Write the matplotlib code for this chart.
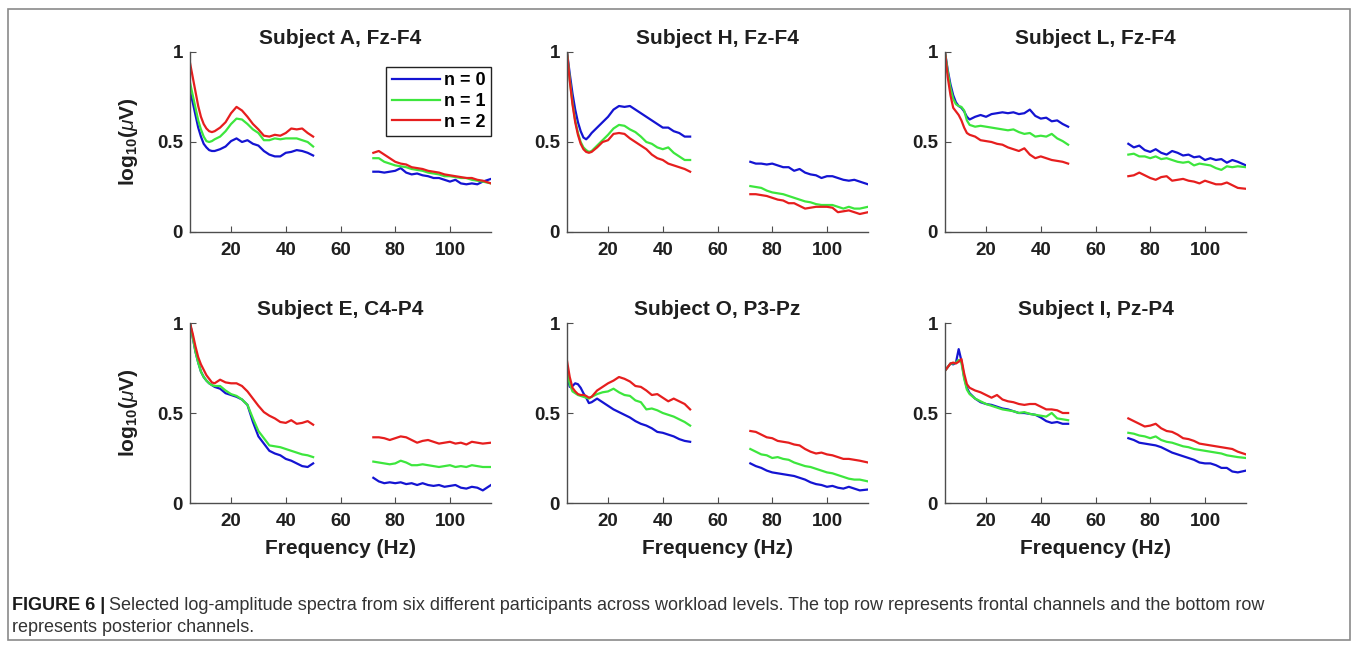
import matplotlib
matplotlib.use("Agg")
import matplotlib.pyplot as plt
from matplotlib.patches import Rectangle

plt.rcParams["font.family"] = ["Liberation Sans", "DejaVu Sans"]
plt.rcParams["mathtext.fontset"] = "custom"
plt.rcParams["mathtext.rm"] = "Liberation Sans"
plt.rcParams["mathtext.bf"] = "Liberation Sans:bold"
plt.rcParams["mathtext.it"] = "Liberation Sans:italic"

# Frequency grids of the two plotted bands (Hz)
freq_low = [5, 6, 7, 8, 9, 10, 11, 12, 13, 14, 16, 18, 20, 22, 24, 26, 28,
            30, 32, 34, 36, 38, 40, 42, 44, 46, 48, 50]
freq_high = [72, 74, 76, 78, 80, 82, 84, 86, 88, 90, 92, 94, 96, 98, 100,
             102, 104, 106, 108, 110, 112, 115]

levels = ["n = 0", "n = 1", "n = 2"]
level_colors = ["#1414d2", "#3de63d", "#e61e1e"]

# Subject A, Fz-F4
A_low_n0 = [0.78, 0.72, 0.65, 0.58, 0.53, 0.49, 0.47, 0.455, 0.45, 0.45, 0.46, 0.475, 0.505, 0.52,
            0.50, 0.51, 0.49, 0.48, 0.45, 0.43, 0.42, 0.42, 0.44, 0.445, 0.455, 0.45, 0.44, 0.425]
A_low_n1 = [0.83, 0.76, 0.69, 0.62, 0.57, 0.53, 0.505, 0.50, 0.505, 0.515, 0.53, 0.56, 0.60, 0.63,
            0.625, 0.60, 0.57, 0.55, 0.51, 0.51, 0.52, 0.515, 0.52, 0.52, 0.52, 0.51, 0.50, 0.475]
A_low_n2 = [0.94, 0.86, 0.78, 0.70, 0.64, 0.60, 0.575, 0.56, 0.555, 0.56, 0.58, 0.61, 0.66, 0.695,
            0.675, 0.64, 0.60, 0.57, 0.535, 0.53, 0.54, 0.535, 0.55, 0.575, 0.57, 0.575, 0.55, 0.53]
A_high_n0 = [0.335, 0.335, 0.33, 0.335, 0.34, 0.355, 0.33, 0.32, 0.325, 0.315, 0.31, 0.30, 0.30,
             0.29, 0.28, 0.29, 0.27, 0.265, 0.27, 0.265, 0.28, 0.295]
A_high_n1 = [0.41, 0.41, 0.39, 0.38, 0.37, 0.365, 0.36, 0.35, 0.345, 0.34, 0.33, 0.325, 0.32,
             0.31, 0.31, 0.305, 0.30, 0.30, 0.29, 0.285, 0.28, 0.27]
A_high_n2 = [0.44, 0.45, 0.43, 0.41, 0.39, 0.38, 0.375, 0.36, 0.355, 0.35, 0.34, 0.335, 0.33,
             0.32, 0.315, 0.31, 0.305, 0.30, 0.30, 0.29, 0.285, 0.27]

# Subject H, Fz-F4
H_low_n0 = [1.0, 0.88, 0.77, 0.68, 0.61, 0.56, 0.525, 0.515, 0.53, 0.55, 0.58, 0.61, 0.64, 0.68,
            0.70, 0.695, 0.70, 0.68, 0.66, 0.64, 0.62, 0.60, 0.58, 0.58, 0.56, 0.55, 0.53, 0.53]
H_low_n1 = [1.0, 0.85, 0.72, 0.62, 0.55, 0.50, 0.47, 0.455, 0.445, 0.45, 0.48, 0.51, 0.54, 0.575,
            0.595, 0.59, 0.57, 0.555, 0.53, 0.50, 0.49, 0.47, 0.46, 0.47, 0.44, 0.42, 0.40, 0.40]
H_low_n2 = [1.0, 0.84, 0.71, 0.61, 0.54, 0.49, 0.46, 0.445, 0.44, 0.445, 0.47, 0.50, 0.51, 0.545,
            0.55, 0.545, 0.52, 0.50, 0.48, 0.46, 0.43, 0.41, 0.40, 0.38, 0.37, 0.36, 0.35, 0.335]
H_high_n0 = [0.39, 0.38, 0.38, 0.375, 0.38, 0.37, 0.36, 0.36, 0.34, 0.35, 0.33, 0.32, 0.315,
             0.30, 0.31, 0.31, 0.30, 0.29, 0.285, 0.29, 0.28, 0.265]
H_high_n1 = [0.255, 0.25, 0.245, 0.23, 0.22, 0.215, 0.21, 0.20, 0.19, 0.18, 0.17, 0.165, 0.155,
             0.15, 0.15, 0.15, 0.14, 0.13, 0.14, 0.13, 0.13, 0.14]
H_high_n2 = [0.21, 0.21, 0.205, 0.20, 0.19, 0.18, 0.175, 0.16, 0.16, 0.145, 0.13, 0.135, 0.14,
             0.14, 0.14, 0.135, 0.11, 0.115, 0.12, 0.11, 0.10, 0.11]

# Subject L, Fz-F4
L_low_n0 = [1.0, 0.90, 0.82, 0.76, 0.72, 0.70, 0.69, 0.67, 0.64, 0.625, 0.64, 0.65, 0.64, 0.655,
            0.66, 0.665, 0.66, 0.665, 0.655, 0.66, 0.68, 0.645, 0.63, 0.635, 0.615, 0.62, 0.60, 0.585]
L_low_n1 = [1.0, 0.89, 0.80, 0.74, 0.71, 0.70, 0.695, 0.675, 0.62, 0.595, 0.585, 0.59, 0.585, 0.58,
            0.575, 0.57, 0.565, 0.57, 0.555, 0.545, 0.55, 0.53, 0.535, 0.53, 0.545, 0.52, 0.505, 0.485]
L_low_n2 = [1.0, 0.86, 0.76, 0.69, 0.67, 0.65, 0.62, 0.58, 0.55, 0.54, 0.53, 0.51, 0.505, 0.50,
            0.49, 0.485, 0.47, 0.46, 0.45, 0.465, 0.43, 0.41, 0.42, 0.41, 0.40, 0.395, 0.39, 0.38]
L_high_n0 = [0.49, 0.47, 0.48, 0.455, 0.445, 0.46, 0.44, 0.43, 0.45, 0.44, 0.425, 0.43, 0.415,
             0.42, 0.40, 0.41, 0.40, 0.405, 0.385, 0.40, 0.39, 0.37]
L_high_n1 = [0.43, 0.435, 0.42, 0.42, 0.41, 0.42, 0.405, 0.41, 0.40, 0.39, 0.385, 0.39, 0.37,
             0.38, 0.375, 0.37, 0.355, 0.345, 0.365, 0.36, 0.365, 0.36]
L_high_n2 = [0.31, 0.315, 0.33, 0.315, 0.30, 0.29, 0.305, 0.31, 0.285, 0.29, 0.295, 0.285, 0.28,
             0.27, 0.285, 0.275, 0.265, 0.265, 0.275, 0.26, 0.245, 0.24]

# Subject E, C4-P4
E_low_n0 = [1.0, 0.92, 0.84, 0.78, 0.73, 0.70, 0.68, 0.665, 0.655, 0.645, 0.635, 0.61, 0.60, 0.59,
            0.575, 0.545, 0.45, 0.37, 0.33, 0.29, 0.275, 0.265, 0.245, 0.235, 0.22, 0.205, 0.20, 0.22]
E_low_n1 = [1.0, 0.92, 0.84, 0.78, 0.73, 0.70, 0.68, 0.665, 0.655, 0.65, 0.65, 0.625, 0.605, 0.595,
            0.575, 0.545, 0.47, 0.40, 0.36, 0.32, 0.315, 0.31, 0.30, 0.29, 0.28, 0.27, 0.265, 0.255]
E_low_n2 = [1.0, 0.94, 0.87, 0.81, 0.77, 0.74, 0.71, 0.69, 0.67, 0.665, 0.685, 0.67, 0.665, 0.665,
            0.65, 0.62, 0.58, 0.54, 0.505, 0.485, 0.47, 0.45, 0.445, 0.46, 0.44, 0.445, 0.455, 0.435]
E_high_n0 = [0.14, 0.12, 0.11, 0.115, 0.11, 0.115, 0.105, 0.11, 0.10, 0.11, 0.10, 0.095, 0.10,
             0.09, 0.095, 0.10, 0.085, 0.08, 0.09, 0.085, 0.07, 0.10]
E_high_n1 = [0.23, 0.225, 0.22, 0.215, 0.22, 0.235, 0.225, 0.21, 0.21, 0.215, 0.21, 0.205, 0.20,
             0.205, 0.21, 0.20, 0.205, 0.20, 0.21, 0.205, 0.20, 0.20]
E_high_n2 = [0.365, 0.365, 0.36, 0.35, 0.36, 0.37, 0.365, 0.35, 0.335, 0.345, 0.35, 0.34, 0.33,
             0.335, 0.34, 0.33, 0.335, 0.325, 0.34, 0.335, 0.33, 0.335]

# Subject O, P3-Pz
O_low_n0 = [0.72, 0.645, 0.65, 0.665, 0.66, 0.64, 0.61, 0.585, 0.555, 0.56, 0.58, 0.56, 0.54, 0.52,
            0.505, 0.49, 0.475, 0.455, 0.44, 0.43, 0.415, 0.395, 0.39, 0.38, 0.37, 0.355, 0.345, 0.34]
O_low_n1 = [0.73, 0.66, 0.62, 0.61, 0.60, 0.595, 0.59, 0.585, 0.58, 0.59, 0.605, 0.615, 0.62, 0.635,
            0.615, 0.60, 0.595, 0.57, 0.56, 0.52, 0.525, 0.515, 0.50, 0.49, 0.48, 0.465, 0.45, 0.43]
O_low_n2 = [0.79, 0.70, 0.64, 0.62, 0.605, 0.60, 0.60, 0.595, 0.585, 0.59, 0.625, 0.645, 0.665, 0.68,
            0.70, 0.69, 0.675, 0.65, 0.645, 0.625, 0.60, 0.605, 0.585, 0.565, 0.58, 0.565, 0.55, 0.52]
O_high_n0 = [0.22, 0.205, 0.195, 0.18, 0.17, 0.165, 0.16, 0.155, 0.15, 0.14, 0.13, 0.115, 0.105,
             0.10, 0.09, 0.095, 0.085, 0.08, 0.09, 0.08, 0.07, 0.075]
O_high_n1 = [0.30, 0.285, 0.27, 0.265, 0.25, 0.255, 0.245, 0.24, 0.225, 0.215, 0.205, 0.20, 0.19,
             0.18, 0.17, 0.165, 0.155, 0.145, 0.135, 0.13, 0.13, 0.12]
O_high_n2 = [0.40, 0.395, 0.38, 0.365, 0.36, 0.345, 0.34, 0.335, 0.325, 0.32, 0.30, 0.285, 0.275,
             0.28, 0.27, 0.265, 0.255, 0.245, 0.245, 0.24, 0.235, 0.225]

# Subject I, Pz-P4
I_low_n0 = [0.735, 0.755, 0.775, 0.77, 0.78, 0.855, 0.79, 0.70, 0.64, 0.61, 0.58, 0.56, 0.55, 0.545,
            0.535, 0.525, 0.52, 0.51, 0.50, 0.50, 0.495, 0.49, 0.475, 0.455, 0.445, 0.45, 0.44, 0.44]
I_low_n1 = [0.735, 0.755, 0.775, 0.775, 0.78, 0.795, 0.78, 0.69, 0.63, 0.605, 0.58, 0.565, 0.55, 0.54,
            0.53, 0.52, 0.515, 0.51, 0.50, 0.505, 0.495, 0.49, 0.485, 0.48, 0.50, 0.47, 0.465, 0.46]
I_low_n2 = [0.735, 0.755, 0.775, 0.78, 0.775, 0.785, 0.80, 0.72, 0.66, 0.64, 0.625, 0.615, 0.60, 0.585,
            0.60, 0.575, 0.565, 0.56, 0.55, 0.545, 0.55, 0.55, 0.535, 0.52, 0.52, 0.515, 0.50, 0.50]
I_high_n0 = [0.36, 0.35, 0.335, 0.33, 0.325, 0.32, 0.31, 0.295, 0.28, 0.27, 0.26, 0.25, 0.24,
             0.225, 0.22, 0.22, 0.21, 0.195, 0.195, 0.175, 0.17, 0.18]
I_high_n1 = [0.39, 0.385, 0.375, 0.37, 0.36, 0.37, 0.35, 0.34, 0.335, 0.325, 0.315, 0.31, 0.30,
             0.295, 0.29, 0.285, 0.28, 0.275, 0.265, 0.26, 0.255, 0.25]
I_high_n2 = [0.47, 0.455, 0.44, 0.425, 0.43, 0.44, 0.415, 0.40, 0.395, 0.38, 0.36, 0.355, 0.345,
             0.33, 0.325, 0.32, 0.315, 0.31, 0.305, 0.30, 0.285, 0.27]

panel_titles = ["Subject A, Fz-F4", "Subject H, Fz-F4", "Subject L, Fz-F4",
                "Subject E, C4-P4", "Subject O, P3-Pz", "Subject I, Pz-P4"]
panel_low = [(A_low_n0, A_low_n1, A_low_n2), (H_low_n0, H_low_n1, H_low_n2),
             (L_low_n0, L_low_n1, L_low_n2), (E_low_n0, E_low_n1, E_low_n2),
             (O_low_n0, O_low_n1, O_low_n2), (I_low_n0, I_low_n1, I_low_n2)]
panel_high = [(A_high_n0, A_high_n1, A_high_n2), (H_high_n0, H_high_n1, H_high_n2),
              (L_high_n0, L_high_n1, L_high_n2), (E_high_n0, E_high_n1, E_high_n2),
              (O_high_n0, O_high_n1, O_high_n2), (I_high_n0, I_high_n1, I_high_n2)]

x_ticks = [20, 40, 60, 80, 100]
y_ticks = [0, 0.5, 1]
y_tick_labels = ["0", "0.5", "1"]

W, H = 1358, 649
fig = plt.figure(figsize=(W / 100, H / 100), dpi=100)

# outer frame around figure and caption
fig.patches.append(Rectangle((8 / W, 1 - 640 / H), (1350 - 8) / W, (640 - 9) / H,
                             transform=fig.transFigure, fill=False,
                             edgecolor="#8a8a8a", linewidth=1.2))

col_left = [190, 567, 945]
ax_w = 301
row_top = [52, 323]
ax_h = 180
axis_gray = "#4d4d4d"
text_dark = "#1f1f1f"

for k in range(6):
    r, c = divmod(k, 3)
    left = col_left[c] / W
    bottom = 1 - (row_top[r] + ax_h) / H
    ax = fig.add_axes([left, bottom, ax_w / W, ax_h / H])
    for lvl in range(3):
        ax.plot(freq_low, panel_low[k][lvl], color=level_colors[lvl], lw=1.6,
                label=levels[lvl], solid_joinstyle="round")
        ax.plot(freq_high, panel_high[k][lvl], color=level_colors[lvl], lw=1.6,
                solid_joinstyle="round")
    ax.set_xlim(5, 115)
    ax.set_ylim(0, 1)
    ax.set_xticks(x_ticks)
    ax.set_yticks(y_ticks)
    ax.set_yticklabels(y_tick_labels)
    for side in ("top", "right"):
        ax.spines[side].set_visible(False)
    for side in ("left", "bottom"):
        ax.spines[side].set_color(axis_gray)
        ax.spines[side].set_linewidth(1.0)
    ax.tick_params(direction="in", length=4, width=0.8, color=axis_gray,
                   labelsize=13.5, labelcolor=text_dark)
    ax.tick_params(axis="x", pad=7)
    ax.tick_params(axis="y", pad=5)
    for lab in ax.get_xticklabels() + ax.get_yticklabels():
        lab.set_fontweight("bold")
    ax.set_title(panel_titles[k], fontsize=15, fontweight="bold", color=text_dark, pad=6)
    if c == 0:
        ax.set_ylabel(r"$\mathbf{log_{10}(}\mathit{\mu}\mathbf{V)}$", fontsize=15,
                      color=text_dark)
        ax.yaxis.set_label_coords(-0.165, 0.5)
    if r == 1:
        ax.set_xlabel("Frequency (Hz)", fontsize=15, fontweight="bold", color=text_dark)
        ax.xaxis.set_label_coords(0.5, -0.2)
    if k == 0:
        leg = ax.legend(loc="upper right", bbox_to_anchor=(1.0, 0.917), borderaxespad=0,
                        fontsize=13, handlelength=2.7, handletextpad=0.2,
                        labelspacing=0.2, borderpad=0.3, fancybox=False, framealpha=1)
        leg.get_frame().set_edgecolor("#222222")
        leg.get_frame().set_linewidth(1.0)
        for t in leg.get_texts():
            t.set_fontweight("bold")

# caption
cap_ax = fig.add_axes([0, 0, 1, 1])
cap_ax.axis("off")
t_bold = cap_ax.text(12 / W, 1 - 605 / H, "FIGURE 6 |", fontsize=13, fontweight="bold",
                     color="#1a1a1a", va="center", ha="left", transform=cap_ax.transAxes)
cap_ax.annotate("Selected log-amplitude spectra from six different participants across workload "
                "levels. The top row represents frontal channels and the bottom row",
                xy=(1, 0), xycoords=t_bold, xytext=(3, 0), textcoords="offset points",
                fontsize=13, color="#333333", va="bottom", ha="left")
cap_ax.text(12 / W, 1 - 628 / H, "represents posterior channels.", fontsize=13,
            color="#333333", va="center", ha="left", transform=cap_ax.transAxes)

fig.savefig("out.png", dpi=100)
